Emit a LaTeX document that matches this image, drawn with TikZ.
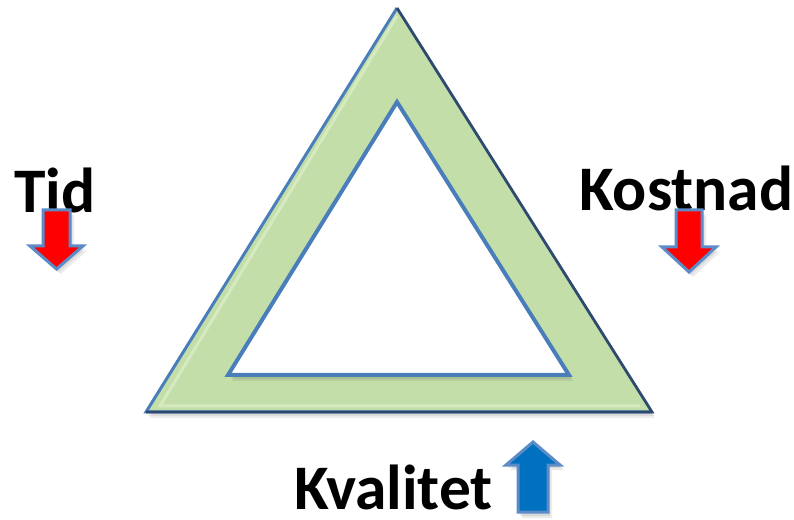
\documentclass[tikz,border=0pt]{standalone}
\usepackage{fontspec}
\setmainfont{Carlito}
\definecolor{trigreen}{HTML}{C4DEAA}
\definecolor{trihi}{HTML}{D6EAC0}
\definecolor{triblue}{HTML}{4A7EBB}
\definecolor{tridark}{HTML}{2E4A6E}
\definecolor{arrowline}{HTML}{5B8CC8}
\definecolor{kvalblue}{HTML}{0070C0}
\begin{document}
\begin{tikzpicture}[x=1pt,y=1pt,
  lbl/.style={font=\fontsize{63.5}{63.5}\selectfont\bfseries, inner sep=0pt, anchor=base west},
  shad/.style={fill=black, opacity=0.07, draw=none},
  downarrow/.style={fill=red, draw=arrowline, line width=3pt, line join=miter},
  uparrow/.style={fill=kvalblue, draw=arrowline, line width=3pt, line join=miter}]
\useasboundingbox (0,0) rectangle (794,519);
% outer triangle shadow
\foreach \d in {2,4,6}{
  \fill[shad] (397+\d*0.5,511-\d) -- (146+\d*0.5,107-\d) -- (652+\d*0.5,107-\d) -- cycle;
}
% outer triangle
\fill[trigreen] (397,511) -- (146,107) -- (652,107) -- cycle;
\draw[trihi, line width=3pt] (397,503) -- (160,113) -- (640,113);
\draw[triblue, line width=3pt, line join=miter] (652,107) -- (146,107) -- (397,511);
\draw[tridark, line width=2.8pt, line join=miter] (397,511) -- (652,107) -- (146,107);
% inner triangle shadow
\foreach \d in {2,4}{
  \fill[shad] (399+\d*0.5,415-\d) -- (230+\d*0.5,142-\d) -- (571+\d*0.5,142-\d) -- cycle;
}
\draw[triblue, fill=white, line width=4pt, line join=miter] (397,417) -- (228,144) -- (569,144) -- cycle;
% labels
\node[lbl] (tid) at (14,306) {Tid};
\node[lbl] (kostnad) at (579,308) {Kostnad};
\node[lbl] (kvalitet) at (294,10) {Kvalitet};
% arrow shadows
\foreach \ox/\oy in {2/-3,4/-5}{
  \fill[shad, opacity=0.08] (43+\ox,309+\oy) -- (70+\ox,309+\oy) -- (70+\ox,273+\oy) -- (83+\ox,273+\oy) -- (56.5+\ox,250+\oy) -- (30+\ox,273+\oy) -- (43+\ox,273+\oy) -- cycle;
  \fill[shad, opacity=0.08] (676+\ox,309+\oy) -- (702+\ox,309+\oy) -- (702+\ox,272+\oy) -- (716+\ox,272+\oy) -- (689+\ox,247+\oy) -- (662+\ox,272+\oy) -- (676+\ox,272+\oy) -- cycle;
  \fill[shad, opacity=0.08] (518+\ox,6+\oy) -- (548+\ox,6+\oy) -- (548+\ox,54+\oy) -- (560+\ox,54+\oy) -- (533+\ox,77+\oy) -- (506+\ox,54+\oy) -- (518+\ox,54+\oy) -- cycle;
}
% arrows
\draw[downarrow] (43,309) -- (70,309) -- (70,273) -- (83,273) -- (56.5,250) -- (30,273) -- (43,273) -- cycle;
\draw[downarrow] (676,309) -- (702,309) -- (702,272) -- (716,272) -- (689,247) -- (662,272) -- (676,272) -- cycle;
\draw[uparrow] (518,7) -- (548,7) -- (548,54) -- (560,54) -- (533,77) -- (506,54) -- (518,54) -- cycle;
\end{tikzpicture}
\end{document}
